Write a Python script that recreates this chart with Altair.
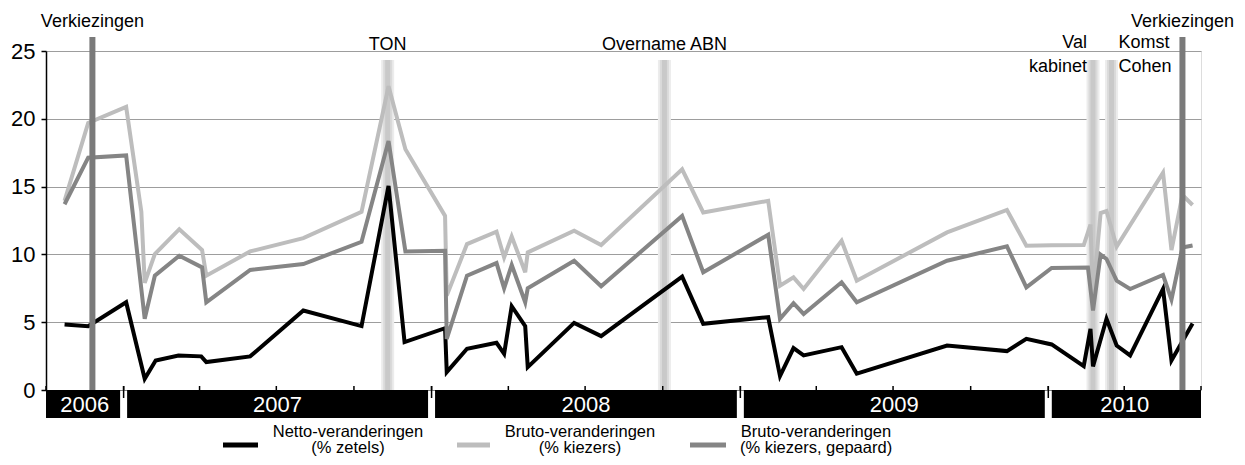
import altair as alt
import pandas as pd

FONT = "Liberation Sans, Arial, sans-serif"
W, H = 1155, 339

# ---------------- data ----------------
netto_dates = ["2006-10-23", "2006-11-20", "2007-01-04", "2007-01-26", "2007-02-08", "2007-03-07",
               "2007-04-03", "2007-04-09", "2007-05-31", "2007-08-02", "2007-10-10", "2007-11-11",
               "2007-11-30", "2008-01-17", "2008-01-19", "2008-02-12", "2008-03-18", "2008-03-27",
               "2008-04-05", "2008-04-21", "2008-04-24", "2008-06-18", "2008-07-20", "2008-10-24",
               "2008-11-18", "2009-02-03", "2009-02-17", "2009-03-05", "2009-03-17", "2009-05-01",
               "2009-05-19", "2009-09-03", "2009-11-13", "2009-12-06", "2010-01-05", "2010-02-12",
               "2010-02-20", "2010-02-23", "2010-03-11", "2010-03-23", "2010-04-08", "2010-05-17",
               "2010-05-27", "2010-06-21"]
netto_vals = [4.83, 4.71, 6.47, 0.83, 2.18, 2.55, 2.48, 2.06, 2.48, 5.86, 4.71, 15.05,
              3.53, 4.56, 1.32, 3.04, 3.48, 2.67, 6.18, 4.71, 1.69, 4.95, 3.97, 8.36,
              4.88, 5.37, 1.03, 3.09, 2.55, 3.16, 1.20, 3.28, 2.87, 3.77, 3.36, 1.76,
              4.51, 1.74, 5.25, 3.28, 2.55, 7.45, 2.18, 4.90]

bruto_dates = ["2006-10-23", "2006-11-20", "2007-01-04", "2007-01-22", "2007-01-26", "2007-02-07",
               "2007-03-08", "2007-04-04", "2007-04-09", "2007-05-31", "2007-08-02", "2007-10-10",
               "2007-11-11", "2007-12-01", "2008-01-17", "2008-01-19", "2008-02-12", "2008-03-18",
               "2008-03-27", "2008-04-05", "2008-04-21", "2008-04-24", "2008-06-18", "2008-07-20",
               "2008-10-24", "2008-11-18", "2009-02-03", "2009-02-17", "2009-03-05", "2009-03-17",
               "2009-05-01", "2009-05-19", "2009-09-03", "2009-11-13", "2009-12-06", "2010-01-05",
               "2010-02-12", "2010-02-20", "2010-02-23", "2010-03-04", "2010-03-11", "2010-03-23",
               "2010-05-17", "2010-05-27", "2010-06-09", "2010-06-21"]
bruto_vals = [13.95, 19.7, 20.88, 13.15, 7.9, 10.02, 11.86, 10.32, 8.43, 10.22, 11.2, 13.14,
              22.4, 17.75, 12.84, 6.96, 10.76, 11.67, 9.78, 11.32, 8.68, 10.15, 11.74, 10.69,
              16.27, 13.09, 13.95, 7.70, 8.31, 7.45, 11.0, 8.06, 11.62, 13.28, 10.64, 10.68,
              10.69, 12.2, 7.0, 13.05, 13.2, 10.57, 16.03, 10.32, 14.38, 13.64]

gepaard_dates = ["2006-10-23", "2006-11-20", "2007-01-04", "2007-01-26", "2007-02-07", "2007-03-08",
                 "2007-04-04", "2007-04-09", "2007-05-31", "2007-08-02", "2007-10-10", "2007-11-11",
                 "2007-12-01", "2008-01-17", "2008-01-19", "2008-02-12", "2008-03-18", "2008-03-27",
                 "2008-04-05", "2008-04-21", "2008-04-24", "2008-06-18", "2008-07-20", "2008-10-24",
                 "2008-11-18", "2009-02-03", "2009-02-17", "2009-03-05", "2009-03-17", "2009-05-01",
                 "2009-05-19", "2009-09-03", "2009-11-13", "2009-12-06", "2010-01-05", "2010-02-17",
                 "2010-02-23", "2010-03-04", "2010-03-11", "2010-03-23", "2010-04-08", "2010-05-17",
                 "2010-05-27", "2010-06-09", "2010-06-21"]
gepaard_vals = [13.7, 17.13, 17.3, 5.25, 8.43, 9.9, 9.04, 6.47, 8.85, 9.29, 10.93, 18.36,
                10.22, 10.27, 3.77, 8.43, 9.36, 7.5, 9.22, 6.47, 7.5, 9.53, 7.65, 12.84,
                8.68, 11.45, 5.25, 6.4, 5.61, 7.94, 6.47, 9.53, 10.59, 7.57, 9.0, 9.04,
                5.86, 9.98, 9.66, 8.06, 7.45, 8.48, 6.67, 10.51, 10.66]

legend_lines = [["Netto-veranderingen", "(% zetels)"],
                ["Bruto-veranderingen", "(% kiezers)"],
                ["Bruto-veranderingen", "(% kiezers, gepaard)"]]
series_colors = ["#000000", "#bdbdbd", "#858585"]

year_labels = ["2006", "2007", "2008", "2009", "2010"]
year_starts = ["2006-10-01", "2007-01-01", "2008-01-01", "2009-01-01", "2010-01-01"]
year_ends = ["2007-01-01", "2008-01-01", "2009-01-01", "2010-01-01", "2010-07-01"]

quarter_ticks = ["2006-10-01", "2007-01-01", "2007-04-01", "2007-07-01", "2007-10-01",
                 "2008-01-01", "2008-04-01", "2008-07-01", "2008-10-01",
                 "2009-01-01", "2009-04-01", "2009-07-01", "2009-10-01",
                 "2010-01-01", "2010-04-01", "2010-07-01"]

election_dates = ["2006-11-25", "2010-06-09"]
election_label = "Verkiezingen"
event_names = [["TON"], ["Overname ABN"], ["Val", "kabinet"], ["Komst", "Cohen"]]
event_dates = ["2007-11-10", "2008-10-03", "2010-02-23", "2010-03-17"]

y_ticks = [0, 5, 10, 15, 20, 25]

# ---------------- scales ----------------
xscale = alt.Scale(type="utc",
                   domain=[alt.DateTime(year=2006, month=10, date=1, utc=True),
                           alt.DateTime(year=2010, month=7, date=1, utc=True)])


def X(field):
    return alt.X(f"{field}:T", scale=xscale, axis=None)


layers = []

# event bands (blurred light grey)
ev_df = pd.DataFrame({"date": event_dates})
for w, c in [(13, "#ececec"), (9, "#dadada"), (5, "#c9c9c9")]:
    layers.append(alt.Chart(ev_df).mark_rule(strokeWidth=w, color=c).encode(
        x=X("date"), y=alt.value(H), y2=alt.value(9)))

# series lines: black, light, medium (medium on top)
series = [(netto_dates, netto_vals, 0), (bruto_dates, bruto_vals, 1), (gepaard_dates, gepaard_vals, 2)]
first = True
for dates, vals, i in series:
    df = pd.DataFrame({"date": dates, "v": vals})
    if first:
        yenc = alt.Y("v:Q", scale=alt.Scale(domain=[0, 25]), title=None,
                     axis=alt.Axis(values=y_ticks, grid=True, gridColor="#9d9d9d", gridWidth=1,
                                   domainColor="#000000", domainWidth=1.5, tickColor="#000000",
                                   tickWidth=1.5, tickSize=5, labelPadding=6, labelFontSize=22,
                                   labelFont=FONT, labelColor="#000000"))
        first = False
    else:
        yenc = alt.Y("v:Q", scale=alt.Scale(domain=[0, 25]), title=None)
    layers.append(alt.Chart(df).mark_line(strokeWidth=4, color=series_colors[i]).encode(
        x=X("date"), y=yenc))

# elections (dark grey rules on top)
el_df = pd.DataFrame({"date": election_dates})
layers.append(alt.Chart(el_df).mark_rule(strokeWidth=6, color="#7a7a7a").encode(
    x=X("date"), y=alt.value(H), y2=alt.value(-14)))
layers.append(alt.Chart(el_df).mark_text(text=election_label, font=FONT, fontSize=18,
                                          align="center", baseline="alphabetic", color="#000000").encode(
    x=X("date"), y=alt.value(-24)))

# event labels
ev_styles = [dict(align="center", dx=0, y=-1), dict(align="center", dx=0, y=-1),
             dict(align="right", dx=-6, y=-3), dict(align="left", dx=7, y=-3)]
for name, d, st in zip(event_names, event_dates, ev_styles):
    layers.append(alt.Chart(pd.DataFrame({"date": [d]})).mark_text(
        text=name, font=FONT, fontSize=18, align=st["align"], dx=st["dx"], lineHeight=24,
        baseline="alphabetic", color="#000000").encode(x=X("date"), y=alt.value(st["y"])))

# year bars
yr_df = pd.DataFrame({"label": year_labels, "start": year_starts, "end": year_ends})
mid = pd.to_datetime(yr_df["start"]) + (pd.to_datetime(yr_df["end"]) - pd.to_datetime(yr_df["start"])) / 2
yr_df["mid"] = mid.dt.strftime("%Y-%m-%dT%H:%M:%SZ")
layers.append(alt.Chart(yr_df).mark_rect(color="#000000").encode(
    x=X("start"), x2="end", y=alt.value(H), y2=alt.value(H + 28)))
gap_df = pd.DataFrame({"date": year_starts[1:]})
layers.append(alt.Chart(gap_df).mark_rule(strokeWidth=7, color="#ffffff").encode(
    x=X("date"), y=alt.value(H + 0.5), y2=alt.value(H + 30)))
q_df = pd.DataFrame({"date": quarter_ticks})
layers.append(alt.Chart(q_df).mark_rule(strokeWidth=1.5, color="#000000").encode(
    x=X("date"), y=alt.value(H - 4), y2=alt.value(H)))
layers.append(alt.Chart(gap_df).mark_rule(strokeWidth=1.5, color="#000000").encode(
    x=X("date"), y=alt.value(H - 4), y2=alt.value(H + 8)))
layers.append(alt.Chart(yr_df).mark_text(font=FONT, fontSize=22, color="#ffffff",
                                         align="center", baseline="alphabetic").encode(
    x=X("mid"), y=alt.value(H + 22), text="label:N"))

# legend (manual)
leg_sym_x = [(177, 212), (411, 444), (644, 680)]
leg_txt_x = [302, 534, 770]
for i in range(3):
    one = pd.DataFrame({"k": [i]})
    layers.append(alt.Chart(one).mark_rule(strokeWidth=5, color=series_colors[i]).encode(
        x=alt.value(leg_sym_x[i][0]), x2=alt.value(leg_sym_x[i][1]), y=alt.value(H + 55)))
    layers.append(alt.Chart(one).mark_text(text=legend_lines[i], font=FONT, fontSize=16.5,
                                           lineHeight=16, align="center", baseline="alphabetic",
                                           color="#000000").encode(
        x=alt.value(leg_txt_x[i]), y=alt.value(H + 47)))

chart = alt.layer(*layers).properties(
    width=W, height=H,
    padding={"left": 38, "top": 43, "right": 36, "bottom": 67},
    autosize=alt.AutoSizeParams(type="none"),
).configure_view(stroke=None).configure(font=FONT)

chart.save("out.html", embed_options={"renderer": "svg", "actions": False})
